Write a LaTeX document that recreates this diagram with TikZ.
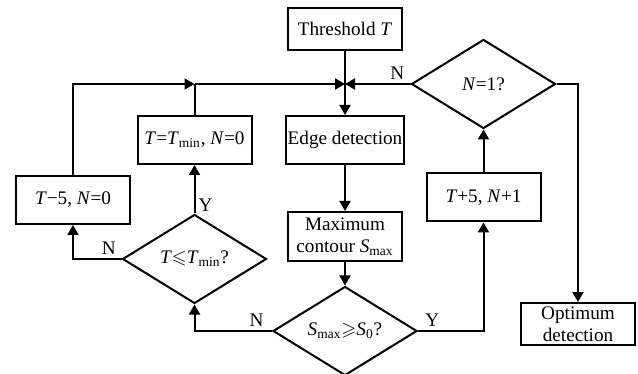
\documentclass[tikz,border=0pt]{standalone}
\usepackage{amssymb,fontspec}
\setmainfont{Liberation Serif}
\usetikzlibrary{arrows.meta,shapes.geometric}
\newcommand\vT{\textit{T}}
\newcommand\vN{\textit{N}}
\newcommand\vS{\textit{S}}
\begin{document}
\begin{tikzpicture}[x=.5pt,y=-.5pt,font=\fontsize{9.6}{10.8}\selectfont,line width=1pt,
 box/.style={draw,minimum width=57pt,minimum height=24pt,inner sep=1pt,align=center},
 ask/.style={draw,diamond,aspect=1.6,minimum width=72pt,minimum height=44.5pt,inner sep=0pt},
 flow/.style={-{Triangle[length=5pt,width=5.5pt]}},
 lbl/.style={inner sep=1.5pt}]
\useasboundingbox (0,0) rectangle (638,374);
\node[box,minimum height=21pt] (thr) at (345,29) {Threshold \vT};
\node[box] (edge) at (345,140) {Edge detection};
\node[box,minimum height=24.5pt] (smax) at (345,236.5) {Maximum\\contour \vS\textsubscript{max}};
\node[ask] (sq) at (345,331) {\vS\textsubscript{max}$\geqslant$\vS\textsubscript{0}?};
\node[ask] (tq) at (194.5,259) {\vT$\leqslant$\vT\textsubscript{min}?};
\node[box] (tmin) at (194.5,140) {\vT=\vT\textsubscript{min}, \vN=0};
\node[box] (tdec) at (73,200) {\vT−5, \vN=0};
\node[box] (tinc) at (483.5,197.5) {\vT+5, \vN+1};
\node[ask] (nq) at (483.5,84) {\vN=1?};
\node[box,minimum height=21pt] (opt) at (578,324) {Optimum\\detection};
\coordinate (j0) at (thr |- nq.west);
\coordinate (j1) at (tmin |- nq.west);
\draw[flow] (thr) -- (edge);
\draw[flow] (edge) -- (smax);
\draw[flow] (smax) -- (sq);
\draw[flow] (tdec.north) |- (j1);
\draw (tmin.north) -- (j1);
\draw[flow] (j1) -- (j0);
\draw[flow] (nq.west) -- node[lbl,pos=.2,above]{N} (j0);
\draw[flow] (sq.west) -| node[lbl,pos=.1,above]{N} (tq.south);
\draw[flow] (sq.east) -| node[lbl,pos=.11,above]{Y} (tinc.south);
\draw[flow] (tq.west) -| node[lbl,pos=.13,above]{N} (tdec.south);
\draw[flow] (tq.north) -- node[lbl,pos=.18,right]{Y} (tmin.south);
\draw[flow] (tinc) -- (nq.south);
\draw[flow] (nq.east) -| (opt.north);
\end{tikzpicture}
\end{document}
